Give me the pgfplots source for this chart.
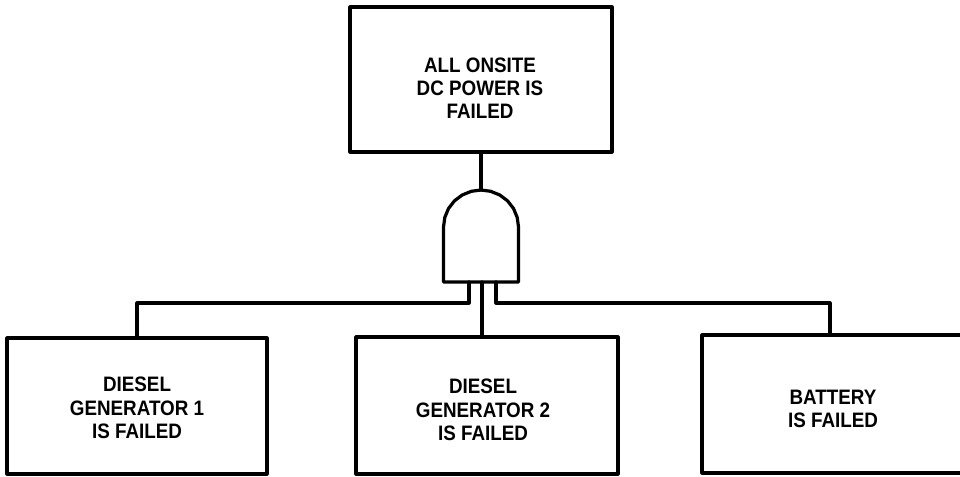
\documentclass[border=0pt]{standalone}
\usepackage{fontspec}
\setmainfont{Liberation Sans}[FakeStretch=0.9]
\usepackage{pgfplots}
\pgfplotsset{compat=1.18}
\tikzset{txt/.style={align=center, font=\bfseries\fontsize{6.2}{6.9}\selectfont, inner sep=0pt}}
\pgfplotsset{ln/.style={black, solid, line width=0.95pt, mark=none, line join=round, line cap=round}}
\begin{document}
\begin{tikzpicture}
\begin{axis}[
  scale only axis, width=10cm, height=4.9583cm,
  xmin=0, xmax=960, ymin=0, ymax=476, y dir=reverse,
  hide axis, clip=true,
]
% top event box
\addplot[ln] coordinates {(350,7) (612,7) (612,152) (350,152) (350,7)};
% left box
\addplot[ln] coordinates {(7,338) (267,338) (267,474) (7,474) (7,338)};
% middle box
\addplot[ln] coordinates {(356,337) (618,337) (618,474) (356,474) (356,337)};
% right box (cut at right edge)
\addplot[ln] coordinates {(960,335) (702,335) (702,473) (960,473)};
% stem from top box to gate
\addplot[ln] coordinates {(481,152) (481,190)};
% AND gate
\addplot[ln] coordinates {
 (443.5,282) (443.5,227) (444.8,217.4) (448.5,208.5) (454.5,200.8) (462.2,195.0)
 (471.3,191.3) (481,190) (490.7,191.3) (499.8,195.0) (507.5,200.8) (513.5,208.5)
 (517.2,217.4) (518.5,227) (518.5,282) (443.5,282)};
% gate inputs
\addplot[ln] coordinates {(469,282) (469,303) (137,303) (137,338)};
\addplot[ln] coordinates {(482,282) (482,337)};
\addplot[ln] coordinates {(496,282) (496,303) (830,303) (830,335)};
% labels
\node[txt] at (axis cs:480,88) {ALL ONSITE\\DC POWER IS\\FAILED};
\node[txt] at (axis cs:137,408) {DIESEL\\GENERATOR 1\\IS FAILED};
\node[txt] at (axis cs:483,410) {DIESEL\\GENERATOR 2\\IS FAILED};
\node[txt] at (axis cs:833,409) {BATTERY\\IS FAILED};
\coordinate (SW) at (axis cs:0,476);
\coordinate (NE) at (axis cs:960,0);
\end{axis}
\pgfresetboundingbox
\path (SW) rectangle (NE);
\end{tikzpicture}
\end{document}
